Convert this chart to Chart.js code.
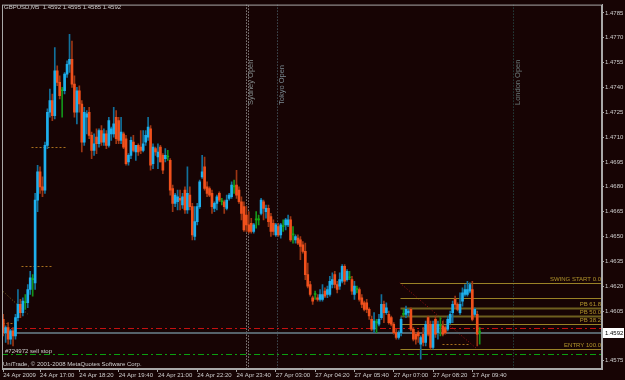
<!DOCTYPE html>
<html>
<head>
<meta charset="utf-8">
<script src="https://cdn.jsdelivr.net/npm/chart.js@4.4.1/dist/chart.umd.min.js"></script>
<style>
  html, body { margin: 0; padding: 0; background: #170404; }
  #wrap { width: 625px; height: 380px; }
</style>
</head>
<body>
<div id="wrap"><canvas id="chart" width="625" height="380"></canvas></div>
<script>
// GBPUSD M5 bars (bar 0 = 24 Apr 15:45)
const opens = [
  1.4600, 1.4592, 1.4595, 1.4588, 1.4593, 1.4590, 1.4601, 1.4609, 1.4604, 1.4610,
  1.4610, 1.4618, 1.4624, 1.4622, 1.4672, 1.4689, 1.4680, 1.4678, 1.4705, 1.4725,
  1.4732, 1.4723, 1.4750, 1.4743, 1.4738, 1.4738, 1.4748, 1.4754, 1.4757, 1.4742,
  1.4725, 1.4738, 1.4730, 1.4707, 1.4722, 1.4725, 1.4711, 1.4702, 1.4710, 1.4706,
  1.4714, 1.4707, 1.4712, 1.4705, 1.4712, 1.4712, 1.4722, 1.4720, 1.4708, 1.4712,
  1.4709, 1.4695, 1.4699, 1.4707, 1.4701, 1.4705, 1.4704, 1.4702, 1.4707, 1.4710,
  1.4715, 1.4694, 1.4703, 1.4698, 1.4704, 1.4699, 1.4697, 1.4698, 1.4696, 1.4679,
  1.4670, 1.4671, 1.4673, 1.4669, 1.4678, 1.4666, 1.4675, 1.4668, 1.4650, 1.4659,
  1.4668, 1.4686, 1.4692, 1.4680, 1.4679, 1.4676, 1.4667, 1.4670, 1.4676, 1.4671,
  1.4671, 1.4667, 1.4673, 1.4674, 1.4680, 1.4681, 1.4678, 1.4671, 1.4668, 1.4663,
  1.4657, 1.4658, 1.4653, 1.4660, 1.4660, 1.4664, 1.4671, 1.4665, 1.4667, 1.4662,
  1.4658, 1.4651, 1.4656, 1.4651, 1.4656, 1.4657, 1.4657, 1.4660, 1.4651, 1.4648,
  1.4649, 1.4648, 1.4645, 1.4641, 1.4627, 1.4621, 1.4613, 1.4615, 1.4613, 1.4612,
  1.4612, 1.4617, 1.4615, 1.4615, 1.4621, 1.4627, 1.4621, 1.4620, 1.4623, 1.4632,
  1.4624, 1.4625, 1.4624, 1.4615, 1.4618, 1.4618, 1.4613, 1.4610, 1.4610, 1.4606,
  1.4600, 1.4594, 1.4598, 1.4597, 1.4601, 1.4609, 1.4604, 1.4603, 1.4601, 1.4597,
  1.4592, 1.4589, 1.4592, 1.4603, 1.4603, 1.4604, 1.4606, 1.4594, 1.4591, 1.4592,
  1.4585, 1.4591, 1.4586, 1.4601, 1.4597, 1.4583, 1.4600, 1.4592, 1.4596, 1.4596,
  1.4595, 1.4594, 1.4598, 1.4604, 1.4612, 1.4609, 1.4604, 1.4611, 1.4615, 1.4615,
  1.4617, 1.4618, 1.4603, 1.4603, 1.4592
];
const highs = [
  1.4603, 1.4596, 1.4598, 1.4594, 1.4595, 1.4603, 1.4618, 1.4612, 1.4613, 1.4615,
  1.4621, 1.4629, 1.4627, 1.4676, 1.4693, 1.4692, 1.4686, 1.4707, 1.4727, 1.4739,
  1.4736, 1.4764, 1.4753, 1.4747, 1.4740, 1.4749, 1.4756, 1.4772, 1.4768, 1.4747,
  1.4740, 1.4741, 1.4732, 1.4728, 1.4726, 1.4728, 1.4713, 1.4712, 1.4715, 1.4715,
  1.4717, 1.4715, 1.4714, 1.4722, 1.4716, 1.4728, 1.4726, 1.4722, 1.4722, 1.4713,
  1.4711, 1.4700, 1.4710, 1.4711, 1.4705, 1.4706, 1.4714, 1.4714, 1.4714, 1.4722,
  1.4717, 1.4706, 1.4704, 1.4706, 1.4705, 1.4700, 1.4703, 1.4702, 1.4697, 1.4681,
  1.4676, 1.4678, 1.4678, 1.4676, 1.4680, 1.4692, 1.4680, 1.4670, 1.4668, 1.4670,
  1.4684, 1.4699, 1.4698, 1.4683, 1.4680, 1.4678, 1.4671, 1.4675, 1.4677, 1.4673,
  1.4672, 1.4675, 1.4676, 1.4683, 1.4684, 1.4690, 1.4680, 1.4674, 1.4671, 1.4668,
  1.4665, 1.4661, 1.4658, 1.4665, 1.4663, 1.4673, 1.4672, 1.4669, 1.4669, 1.4664,
  1.4660, 1.4658, 1.4658, 1.4658, 1.4660, 1.4661, 1.4663, 1.4662, 1.4656, 1.4651,
  1.4651, 1.4650, 1.4647, 1.4646, 1.4634, 1.4623, 1.4614, 1.4617, 1.4615, 1.4618,
  1.4621, 1.4619, 1.4620, 1.4626, 1.4628, 1.4629, 1.4623, 1.4628, 1.4633, 1.4633,
  1.4630, 1.4629, 1.4626, 1.4623, 1.4620, 1.4619, 1.4615, 1.4611, 1.4612, 1.4607,
  1.4602, 1.4604, 1.4600, 1.4603, 1.4615, 1.4611, 1.4610, 1.4605, 1.4602, 1.4598,
  1.4594, 1.4593, 1.4601, 1.4606, 1.4608, 1.4606, 1.4607, 1.4595, 1.4592, 1.4593,
  1.4590, 1.4595, 1.4599, 1.4602, 1.4599, 1.4599, 1.4602, 1.4599, 1.4601, 1.4599,
  1.4596, 1.4602, 1.4605, 1.4611, 1.4614, 1.4610, 1.4616, 1.4619, 1.4621, 1.4623,
  1.4622, 1.4623, 1.4607, 1.4605, 1.4595
];
const lows = [
  1.4590, 1.4586, 1.4585, 1.4585, 1.4584, 1.4588, 1.4599, 1.4601, 1.4602, 1.4606,
  1.4607, 1.4615, 1.4614, 1.4618, 1.4665, 1.4676, 1.4674, 1.4676, 1.4703, 1.4722,
  1.4720, 1.4721, 1.4741, 1.4733, 1.4722, 1.4736, 1.4746, 1.4749, 1.4740, 1.4722,
  1.4718, 1.4725, 1.4701, 1.4705, 1.4712, 1.4709, 1.4697, 1.4699, 1.4700, 1.4704,
  1.4705, 1.4705, 1.4703, 1.4704, 1.4708, 1.4710, 1.4706, 1.4706, 1.4706, 1.4703,
  1.4693, 1.4693, 1.4697, 1.4701, 1.4696, 1.4699, 1.4700, 1.4701, 1.4705, 1.4708,
  1.4690, 1.4691, 1.4699, 1.4691, 1.4695, 1.4688, 1.4695, 1.4696, 1.4675, 1.4665,
  1.4668, 1.4666, 1.4666, 1.4667, 1.4664, 1.4664, 1.4666, 1.4648, 1.4648, 1.4657,
  1.4667, 1.4685, 1.4678, 1.4674, 1.4674, 1.4664, 1.4665, 1.4666, 1.4671, 1.4669,
  1.4664, 1.4666, 1.4672, 1.4673, 1.4676, 1.4673, 1.4670, 1.4660, 1.4653, 1.4653,
  1.4652, 1.4652, 1.4652, 1.4655, 1.4657, 1.4663, 1.4660, 1.4661, 1.4656, 1.4650,
  1.4651, 1.4650, 1.4650, 1.4649, 1.4653, 1.4654, 1.4656, 1.4647, 1.4646, 1.4646,
  1.4645, 1.4636, 1.4640, 1.4624, 1.4619, 1.4614, 1.4609, 1.4612, 1.4611, 1.4611,
  1.4611, 1.4613, 1.4613, 1.4614, 1.4619, 1.4619, 1.4616, 1.4618, 1.4622, 1.4621,
  1.4623, 1.4624, 1.4615, 1.4612, 1.4616, 1.4611, 1.4607, 1.4605, 1.4604, 1.4600,
  1.4593, 1.4592, 1.4592, 1.4596, 1.4600, 1.4598, 1.4603, 1.4597, 1.4596, 1.4591,
  1.4588, 1.4588, 1.4590, 1.4602, 1.4601, 1.4602, 1.4593, 1.4587, 1.4585, 1.4586,
  1.4576, 1.4584, 1.4584, 1.4590, 1.4582, 1.4582, 1.4589, 1.4588, 1.4590, 1.4590,
  1.4591, 1.4593, 1.4597, 1.4598, 1.4607, 1.4605, 1.4603, 1.4608, 1.4614, 1.4614,
  1.4616, 1.4599, 1.4602, 1.4584, 1.4585
];
const closes = [
  1.4592, 1.4595, 1.4588, 1.4593, 1.4590, 1.4601, 1.4609, 1.4604, 1.4611, 1.4610,
  1.4618, 1.4625, 1.4624, 1.4672, 1.4689, 1.4680, 1.4678, 1.4705, 1.4725, 1.4732,
  1.4723, 1.4750, 1.4743, 1.4735, 1.4738, 1.4748, 1.4754, 1.4757, 1.4742, 1.4725,
  1.4738, 1.4730, 1.4707, 1.4725, 1.4724, 1.4711, 1.4702, 1.4706, 1.4706, 1.4714,
  1.4707, 1.4712, 1.4705, 1.4720, 1.4715, 1.4718, 1.4709, 1.4708, 1.4713, 1.4704,
  1.4694, 1.4699, 1.4708, 1.4702, 1.4705, 1.4701, 1.4702, 1.4706, 1.4711, 1.4716,
  1.4693, 1.4704, 1.4701, 1.4701, 1.4695, 1.4690, 1.4699, 1.4698, 1.4678, 1.4670,
  1.4675, 1.4674, 1.4672, 1.4674, 1.4666, 1.4676, 1.4668, 1.4651, 1.4659, 1.4668,
  1.4683, 1.4689, 1.4679, 1.4676, 1.4675, 1.4668, 1.4670, 1.4674, 1.4672, 1.4671,
  1.4668, 1.4672, 1.4675, 1.4681, 1.4680, 1.4675, 1.4671, 1.4664, 1.4654, 1.4657,
  1.4653, 1.4653, 1.4657, 1.4660, 1.4660, 1.4672, 1.4667, 1.4667, 1.4659, 1.4653,
  1.4653, 1.4657, 1.4651, 1.4657, 1.4656, 1.4660, 1.4660, 1.4648, 1.4651, 1.4650,
  1.4646, 1.4644, 1.4641, 1.4627, 1.4620, 1.4615, 1.4611, 1.4615, 1.4612, 1.4615,
  1.4615, 1.4614, 1.4618, 1.4623, 1.4624, 1.4621, 1.4618, 1.4624, 1.4632, 1.4623,
  1.4629, 1.4625, 1.4617, 1.4620, 1.4618, 1.4612, 1.4609, 1.4606, 1.4606, 1.4602,
  1.4594, 1.4599, 1.4598, 1.4600, 1.4609, 1.4604, 1.4607, 1.4598, 1.4597, 1.4592,
  1.4589, 1.4592, 1.4600, 1.4603, 1.4606, 1.4605, 1.4594, 1.4588, 1.4588, 1.4590,
  1.4589, 1.4586, 1.4597, 1.4591, 1.4583, 1.4597, 1.4591, 1.4597, 1.4596, 1.4591,
  1.4592, 1.4600, 1.4603, 1.4609, 1.4609, 1.4606, 1.4609, 1.4616, 1.4618, 1.4618,
  1.4621, 1.4600, 1.4606, 1.4591, 1.4592
];

// axis labels
const timeTickBars = [0, 15, 31, 47, 63, 79, 95, 111, 127, 143, 159, 175, 191];
const timeTickLabels = ['24 Apr 2009', '24 Apr 17:00', '24 Apr 18:20', '24 Apr 19:40', '24 Apr 21:00',
  '24 Apr 22:20', '24 Apr 23:40', '27 Apr 03:00', '27 Apr 04:20', '27 Apr 05:40',
  '27 Apr 07:00', '27 Apr 08:20', '27 Apr 09:40'];
const priceTicks = [1.4575, 1.4590, 1.4605, 1.4620, 1.4635, 1.4650, 1.4665, 1.4680,
  1.4695, 1.4710, 1.4725, 1.4740, 1.4755, 1.4770, 1.4785];

// objects on the chart
const sessionNames = ['Sydney Open', 'Tokyo Open', 'London Open'];
const sessionBars = [99, 111.5, 207.5];
const fibLabels = ['SWING START 0.0', '', 'PB 61.8', 'PB 50.0', 'PB 38.2', 'ENTRY 100.0'];
const fibPrices = [1.4622, 1.4613, 1.4607, 1.4602, 1.4597, 1.4582];
const fibStartBar = 161.5;
const orderPrices = [1.4595, 1.4579];          // red / green dash-dot levels
const orderLabel = '#724972 sell stop';
const markPrices = [1.4704, 1.4632, 1.4598, 1.4585, 1.4613];
const markFrom = [11.3, 7.2, -0.5, 178.6, 183.5];
const markTo = [25.6, 20.3, 4.8, 189.2, 191.7];
const trendFrom = [[161.5, 1.4622], [-0.9, 1.4618]];
const trendTo = [[193, 1.4582], [10.1, 1.4603]];

const BG = '#170404';
const FRAME = '#a9a9a9';
const TXT = '#cfcfcf';
const BULL = '#1eb0ee', BEAR = '#f0501c', DOJI = '#16a816';
const BULL_W = '#12719c', BEAR_W = '#9c3614', DOJI_W = '#14941a';
const FONT = '6px "Liberation Sans", Arial, sans-serif';

const kind = i => closes[i] > opens[i] ? 1 : (closes[i] < opens[i] ? -1 : 0);
const last = closes.length - 1;

const mt4 = {
  id: 'mt4',
  beforeDraw(chart) {
    const ctx = chart.ctx;
    ctx.save();
    ctx.fillStyle = BG;
    ctx.fillRect(0, 0, chart.width, chart.height);
    ctx.restore();
  },
  beforeDatasetsDraw(chart) {
    const { ctx, chartArea: a, scales: { x, y } } = chart;
    const px = v => Math.round(x.getPixelForValue(v)) + 0.5;
    const py = v => Math.round(y.getPixelForValue(v)) + 0.5;
    const seg = (x0, y0, x1, y1, color, w, dash) => {
      ctx.strokeStyle = color; ctx.lineWidth = w; ctx.setLineDash(dash || []);
      ctx.beginPath(); ctx.moveTo(x0, y0); ctx.lineTo(x1, y1); ctx.stroke();
    };
    ctx.save();
    ctx.beginPath(); ctx.rect(a.left, a.top, a.width, a.height); ctx.clip();

    // session open lines + rotated names
    const sesLine = ['#c4c4c4', '#56727e', '#2c5e5a'];
    const sesText = ['#858d8d', '#7a8a92', '#6c7c7c'];
    sessionBars.forEach((b, i) => {
      const sx = px(b);
      seg(sx, a.top, sx, a.bottom, sesLine[i], 1, [1, 2]);
      if (i === 0) seg(sx + 2, a.top + 1, sx + 2, a.bottom, sesLine[i], 1, [1, 2]);
      ctx.save();
      ctx.translate(sx + 6, 105);
      ctx.rotate(-Math.PI / 2);
      ctx.font = '7.5px "Liberation Sans", Arial, sans-serif';
      ctx.fillStyle = sesText[i];
      ctx.textAlign = 'left'; ctx.textBaseline = 'alphabetic';
      ctx.fillText(sessionNames[i], 0, 0);
      ctx.restore();
    });

    // short dotted level marks
    markPrices.forEach((p, i) => seg(px(markFrom[i]), py(p), px(markTo[i]), py(p), '#a8701e', 1, [2, 2]));

    // dotted trend lines
    trendFrom.forEach((f, i) => {
      seg(x.getPixelForValue(f[0]), y.getPixelForValue(f[1]),
          x.getPixelForValue(trendTo[i][0]), y.getPixelForValue(trendTo[i][1]),
          i === 0 ? '#a01212' : '#7c6a22', 1, [1, 2]);
    });

    // fibo levels
    fibPrices.forEach((p, i) => {
      const thick = i === 2 || i === 3;
      seg(px(fibStartBar), py(p), a.right, py(p), thick ? '#6f5f1e' : '#9a8226', thick ? 2 : 1);
    });

    // order levels (dash-dot)
    seg(a.left, py(orderPrices[0]), a.right, py(orderPrices[0]), '#c41010', 1, [6, 3, 2, 3]);
    seg(a.left, py(orderPrices[1]), a.right, py(orderPrices[1]), '#0aa010', 1, [6, 3, 2, 3]);

    // bid line
    const by = Math.round(y.getPixelForValue(closes[last]));
    seg(a.left, by, a.right, by, '#55626a', 2);
    ctx.restore();
  },
  afterDatasetsDraw(chart) {
    const { ctx, chartArea: a, scales: { x, y } } = chart;
    ctx.save();
    ctx.font = FONT;
    ctx.textBaseline = 'bottom';
    // fibo labels
    ctx.fillStyle = '#b3962c';
    ctx.textAlign = 'right';
    fibPrices.forEach((p, i) => {
      if (fibLabels[i]) ctx.fillText(fibLabels[i], a.right - 1, Math.round(y.getPixelForValue(p)) - 1);
    });
    // texts
    ctx.textAlign = 'left';
    ctx.fillStyle = TXT;
    ctx.textBaseline = 'middle';
    ctx.fillText('GBPUSD,M5  ' + [opens[last], highs[last], lows[last], closes[last]].map(v => v.toFixed(4)).join(' '), a.left + 2, 7);
    ctx.fillText(orderLabel, a.left + 3, Math.round(y.getPixelForValue(orderPrices[1])) - 3);
    ctx.fillText('UniTrade, \u00A9 2001-2008 MetaQuotes Software Corp.', a.left + 1, 364);
    ctx.restore();
  },
  afterDraw(chart) {
    const { ctx, chartArea: a, scales: { y } } = chart;
    ctx.save();
    ctx.strokeStyle = FRAME; ctx.lineWidth = 1;
    ctx.strokeRect(a.left + 0.5, a.top + 0.5, a.width - 1, a.height - 1);
    // current price box on the axis
    const by = Math.round(y.getPixelForValue(closes[last]));
    ctx.fillStyle = '#ffffff';
    ctx.fillRect(a.right + 1, by - 5, 21, 10);
    ctx.fillStyle = '#000000';
    ctx.font = FONT;
    ctx.textBaseline = 'middle';
    ctx.fillText(closes[last].toFixed(4), a.right + 3, by);
    ctx.restore();
  }
};

new Chart(document.getElementById('chart'), {
  type: 'bar',
  data: {
    datasets: [
      {
        label: 'body',
        data: opens.map((o, i) => ({ x: i, y: [o, closes[i]] })),
        backgroundColor: ctx => [BEAR, DOJI, BULL][kind(ctx.dataIndex) + 1],
        barThickness: 2,
        minBarLength: 1,
        grouped: false
      },
      {
        label: 'wick',
        data: lows.map((l, i) => ({ x: i, y: [l, highs[i]] })),
        backgroundColor: ctx => [BEAR_W, DOJI_W, BULL_W][kind(ctx.dataIndex) + 1],
        barThickness: 1,
        grouped: false
      }
    ]
  },
  options: {
    responsive: false,
    animation: false,
    events: [],
    layout: { padding: { left: 2, top: 2, right: 0, bottom: 0 } },
    plugins: { legend: { display: false }, tooltip: { enabled: false } },
    scales: {
      x: {
        type: 'linear',
        min: -0.49,
        max: 243.8,
        offset: false,
        grid: { display: true, offset: false, drawOnChartArea: false, drawTicks: true, tickLength: 3, color: FRAME },
        border: { display: true, color: FRAME },
        afterBuildTicks: axis => { axis.ticks = timeTickBars.map(v => ({ value: v })); },
        afterFit: axis => { axis.height = 11; },
        ticks: {
          autoSkip: false, maxRotation: 0, minRotation: 0, align: 'start', padding: 0,
          color: TXT, font: { family: '"Liberation Sans", Arial, sans-serif', size: 6 },
          callback: (v, i) => timeTickLabels[i]
        }
      },
      y: {
        position: 'right',
        min: 1.4570,
        max: 1.4790,
        grid: { display: true, drawOnChartArea: false, drawTicks: true, tickLength: 2, color: FRAME },
        border: { display: true, color: FRAME },
        afterBuildTicks: axis => { axis.ticks = priceTicks.map(v => ({ value: v })); },
        afterFit: axis => { axis.width = 23; },
        ticks: {
          padding: 1, color: TXT, font: { family: '"Liberation Sans", Arial, sans-serif', size: 6 },
          callback: v => v.toFixed(4)
        }
      }
    }
  },
  plugins: [mt4]
});
</script>
</body>
</html>
